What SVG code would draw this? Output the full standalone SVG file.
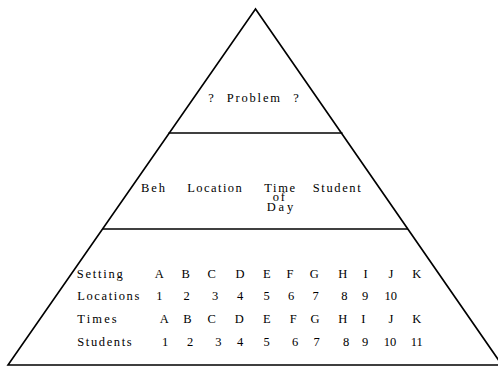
<svg xmlns="http://www.w3.org/2000/svg" width="498" height="366" viewBox="0 0 498 366">
<style>
.ln{fill:none;stroke:#000;stroke-width:1.6;stroke-linejoin:miter}
text{font-family:'Liberation Serif','Times New Roman',serif;font-size:12.5px;fill:#000}
.c{text-anchor:middle}
</style>
<rect width="498" height="366" fill="#fff"/>
<g id="pyramid">
<path class="ln" d="M255.5,9 L8,365 L502,365 Z"/>
<line class="ln" x1="168.5" y1="133" x2="342.5" y2="133"/>
<line class="ln" x1="103" y1="229" x2="408" y2="229"/>
</g>
<g id="tier-top">
<text x="211" y="102" class="c">?</text>
<text x="226.7" y="102" textLength="53.3" lengthAdjust="spacing">Problem</text>
<text x="296" y="102" class="c">?</text>
</g>
<g id="tier-middle">
<text x="141" y="192" textLength="24" lengthAdjust="spacing">Beh</text>
<text x="187.3" y="192" textLength="54.4" lengthAdjust="spacing">Location</text>
<text x="264.3" y="192" textLength="30.7" lengthAdjust="spacing">Time</text>
<text x="272.7" y="201" textLength="12.3" lengthAdjust="spacing">of</text>
<text x="266.7" y="211" textLength="26.6" lengthAdjust="spacing">Day</text>
<text x="312.7" y="192" textLength="48" lengthAdjust="spacing">Student</text>
</g>
<g id="tier-bottom">
<text x="76.7" y="278" textLength="46" lengthAdjust="spacing">Setting</text>
<text x="159.3" y="278" class="c">A</text><text x="185.7" y="278" class="c">B</text><text x="211.7" y="278" class="c">C</text><text x="240" y="278" class="c">D</text><text x="266.7" y="278" class="c">E</text><text x="290" y="278" class="c">F</text><text x="314.3" y="278" class="c">G</text><text x="342.7" y="278" class="c">H</text><text x="365.7" y="278" class="c">I</text><text x="391" y="278" class="c">J</text><text x="416.7" y="278" class="c">K</text>
<text x="77.3" y="300" textLength="62" lengthAdjust="spacing">Locations</text>
<text x="159.3" y="300" class="c">1</text><text x="186.7" y="300" class="c">2</text><text x="215" y="300" class="c">3</text><text x="240" y="300" class="c">4</text><text x="266.7" y="300" class="c">5</text><text x="291" y="300" class="c">6</text><text x="315.7" y="300" class="c">7</text><text x="344.3" y="300" class="c">8</text><text x="365" y="300" class="c">9</text><text x="390.7" y="300" class="c">10</text>
<text x="77.3" y="323" textLength="39.4" lengthAdjust="spacing">Times</text>
<text x="164.3" y="323" class="c">A</text><text x="187.3" y="323" class="c">B</text><text x="211.7" y="323" class="c">C</text><text x="239.3" y="323" class="c">D</text><text x="266.7" y="323" class="c">E</text><text x="293.3" y="323" class="c">F</text><text x="315" y="323" class="c">G</text><text x="342.7" y="323" class="c">H</text><text x="363.3" y="323" class="c">I</text><text x="391" y="323" class="c">J</text><text x="416.7" y="323" class="c">K</text>
<text x="77.3" y="345.5" textLength="54.4" lengthAdjust="spacing">Students</text>
<text x="165" y="345.5" class="c">1</text><text x="190" y="345.5" class="c">2</text><text x="218.3" y="345.5" class="c">3</text><text x="240" y="345.5" class="c">4</text><text x="266.7" y="345.5" class="c">5</text><text x="295" y="345.5" class="c">6</text><text x="316.7" y="345.5" class="c">7</text><text x="346" y="345.5" class="c">8</text><text x="365" y="345.5" class="c">9</text><text x="390" y="345.5" class="c">10</text><text x="416.7" y="345.5" class="c">11</text>
</g>
</svg>
